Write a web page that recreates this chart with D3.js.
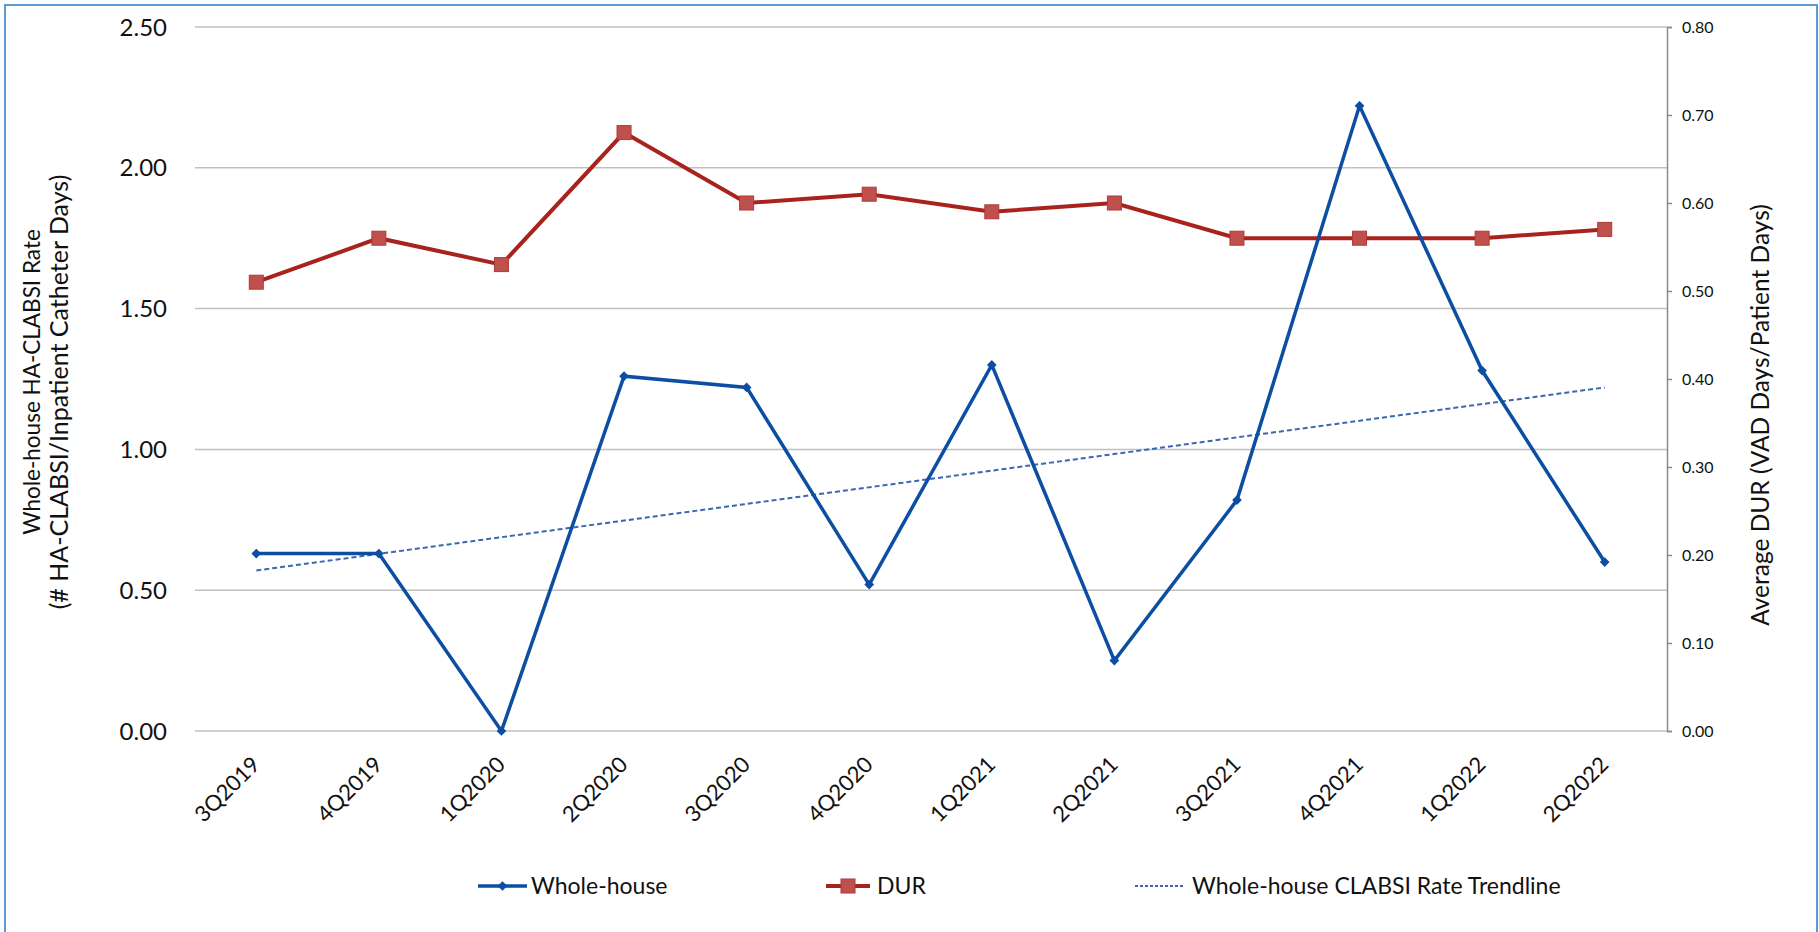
<!DOCTYPE html>
<html>
<head>
  <title>Whole-house HA-CLABSI rate and DUR</title>
  <script src="https://d3js.org/d3.v7.min.js"></script>
  <style>
    body { margin: 0; background: #fff; }
    text { font-family: Lato, "Open Sans", sans-serif; fill: #111; }
    .grid line { stroke: #c0c0c0; stroke-width: 1.5px; }
  </style>
</head>
<body>
  <div id="chart"></div>
  <script>
    // Quarters on the x axis
    const quarters = ["3Q2019", "4Q2019", "1Q2020", "2Q2020", "3Q2020", "4Q2020",
                      "1Q2021", "2Q2021", "3Q2021", "4Q2021", "1Q2022", "2Q2022"];
    // Whole-house HA-CLABSI rate (left axis)
    const wholeHouse = [0.63, 0.63, 0.00, 1.26, 1.22, 0.52, 1.30, 0.25, 0.82, 2.22, 1.28, 0.60];
    // Average DUR (right axis)
    const dur = [0.51, 0.56, 0.53, 0.68, 0.60, 0.61, 0.59, 0.60, 0.56, 0.56, 0.56, 0.57];
    // Trendline values at the first and last quarter (left axis)
    const trendQuarters = ["3Q2019", "2Q2022"];
    const trendValues = [0.57, 1.22];
    // Tick values
    const leftTicks = [0, 0.5, 1.0, 1.5, 2.0, 2.5];
    const rightTicks = [0, 0.1, 0.2, 0.3, 0.4, 0.5, 0.6, 0.7, 0.8];

    const W = 1819, H = 932;
    const plot = { left: 195, right: 1666, top: 27, bottom: 731 };

    const svg = d3.select("#chart").append("svg")
      .attr("width", W)
      .attr("height", H);

    // outer frame
    svg.append("rect")
      .attr("x", 5).attr("y", 5)
      .attr("width", 1812).attr("height", 940)
      .attr("fill", "none")
      .attr("stroke", "#5b9bd5")
      .attr("stroke-width", 2);

    const x = d3.scaleBand().domain(quarters).range([plot.left, plot.right]).padding(0);
    const cx = d => x(d) + x.bandwidth() / 2;
    const yLeft = d3.scaleLinear().domain([0, 2.5]).range([plot.bottom, plot.top]);
    const yRight = d3.scaleLinear().domain([0, 0.8]).range([plot.bottom, plot.top]);

    // gridlines + left labels
    const grid = svg.append("g").attr("class", "grid");
    grid.selectAll("line").data(leftTicks).join("line")
      .attr("x1", plot.left).attr("x2", plot.right + 1)
      .attr("y1", d => yLeft(d)).attr("y2", d => yLeft(d));

    svg.append("g").selectAll("text").data(leftTicks).join("text")
      .attr("x", 167)
      .attr("y", d => yLeft(d))
      .attr("dy", "0.36em")
      .attr("text-anchor", "end")
      .style("font-size", "24px")
      .text(d => d.toFixed(2));

    // right axis
    const rightAxis = d3.axisRight(yRight)
      .tickValues(rightTicks)
      .tickSize(5)
      .tickPadding(10)
      .tickFormat(d3.format(".2f"));
    const ra = svg.append("g")
      .attr("transform", `translate(${plot.right + 1},0)`)
      .call(rightAxis);
    ra.select(".domain").attr("stroke", "#8a8a8a").attr("stroke-width", 1.5);
    ra.selectAll(".tick line").attr("stroke", "#8a8a8a").attr("stroke-width", 1.5);
    ra.selectAll(".tick text")
      .style("font-size", "16px")
      .style("font-family", "Lato, sans-serif")
      .attr("fill", "#222");

    // x labels
    svg.append("g").selectAll("text").data(quarters).join("text")
      .attr("text-anchor", "end")
      .attr("transform", d => `translate(${cx(d) + 5},766) rotate(-45)`)
      .style("font-size", "22px")
      .text(d => d);

    // axis titles
    svg.append("text")
      .attr("text-anchor", "middle")
      .attr("transform", "translate(40,382) rotate(-90)")
      .style("font-size", "22.5px")
      .text("Whole-house HA-CLABSI Rate");
    svg.append("text")
      .attr("text-anchor", "middle")
      .attr("transform", "translate(68,392) rotate(-90)")
      .style("font-size", "25px")
      .text("(# HA-CLABSI/Inpatient Catheter Days)");

    svg.append("text")
      .attr("text-anchor", "middle")
      .attr("transform", "translate(1769,415) rotate(-90)")
      .style("font-size", "24.5px")
      .text("Average DUR (VAD Days/Patient Days)");

    const blue = "#0b4ea2", red = "#a8221e", redFill = "#c0504d", trendBlue = "#3a68b0";

    // trendline
    svg.append("path")
      .datum(trendQuarters.map((q, i) => ({ q, v: trendValues[i] })))
      .attr("fill", "none")
      .attr("stroke", trendBlue)
      .attr("stroke-width", 2)
      .attr("stroke-dasharray", "5,3")
      .attr("d", d3.line().x(d => cx(d.q)).y(d => yLeft(d.v)));

    // DUR series
    const durData = quarters.map((q, i) => ({ q, v: dur[i] }));
    svg.append("path")
      .datum(durData)
      .attr("fill", "none")
      .attr("stroke", red)
      .attr("stroke-width", 4)
      .attr("d", d3.line().x(d => cx(d.q)).y(d => yRight(d.v)));
    svg.append("g").selectAll("rect").data(durData).join("rect")
      .attr("x", d => cx(d.q) - 7).attr("y", d => yRight(d.v) - 7)
      .attr("width", 14).attr("height", 14)
      .attr("fill", redFill)
      .attr("stroke", "#b03a36")
      .attr("stroke-width", 1);

    // whole-house series
    const whData = quarters.map((q, i) => ({ q, v: wholeHouse[i] }));
    svg.append("path")
      .datum(whData)
      .attr("fill", "none")
      .attr("stroke", blue)
      .attr("stroke-width", 3.5)
      .attr("stroke-linejoin", "miter")
      .attr("d", d3.line().x(d => cx(d.q)).y(d => yLeft(d.v)));
    const diamond = d3.symbol().type(d3.symbolDiamond2).size(60);
    svg.append("g").selectAll("path").data(whData).join("path")
      .attr("transform", d => `translate(${cx(d.q)},${yLeft(d.v)})`)
      .attr("d", diamond)
      .attr("fill", blue);

    // legend
    const legY = 886;
    const leg = svg.append("g");
    const items = [
      { label: "Whole-house", x0: 478, x1: 527, tx: 531, kind: "wh" },
      { label: "DUR", x0: 826, x1: 870, tx: 877, kind: "dur" },
      { label: "Whole-house CLABSI Rate Trendline", x0: 1135, x1: 1184, tx: 1192, kind: "trend" }
    ];
    items.forEach(it => {
      const g = leg.append("g");
      if (it.kind === "wh") {
        g.append("line").attr("x1", it.x0).attr("x2", it.x1).attr("y1", legY).attr("y2", legY)
          .attr("stroke", blue).attr("stroke-width", 3.5);
        g.append("path").attr("transform", `translate(${(it.x0 + it.x1) / 2},${legY})`)
          .attr("d", diamond).attr("fill", blue);
      } else if (it.kind === "dur") {
        g.append("line").attr("x1", it.x0).attr("x2", it.x1).attr("y1", legY).attr("y2", legY)
          .attr("stroke", red).attr("stroke-width", 4);
        g.append("rect").attr("x", (it.x0 + it.x1) / 2 - 7).attr("y", legY - 7)
          .attr("width", 14).attr("height", 14)
          .attr("fill", redFill).attr("stroke", "#b03a36");
      } else {
        g.append("line").attr("x1", it.x0).attr("x2", it.x1).attr("y1", legY).attr("y2", legY)
          .attr("stroke", trendBlue).attr("stroke-width", 2).attr("stroke-dasharray", "3,2");
      }
      g.append("text").attr("x", it.tx).attr("y", legY).attr("dy", "0.36em")
        .style("font-size", "23px").text(it.label);
    });
  </script>
</body>
</html>
